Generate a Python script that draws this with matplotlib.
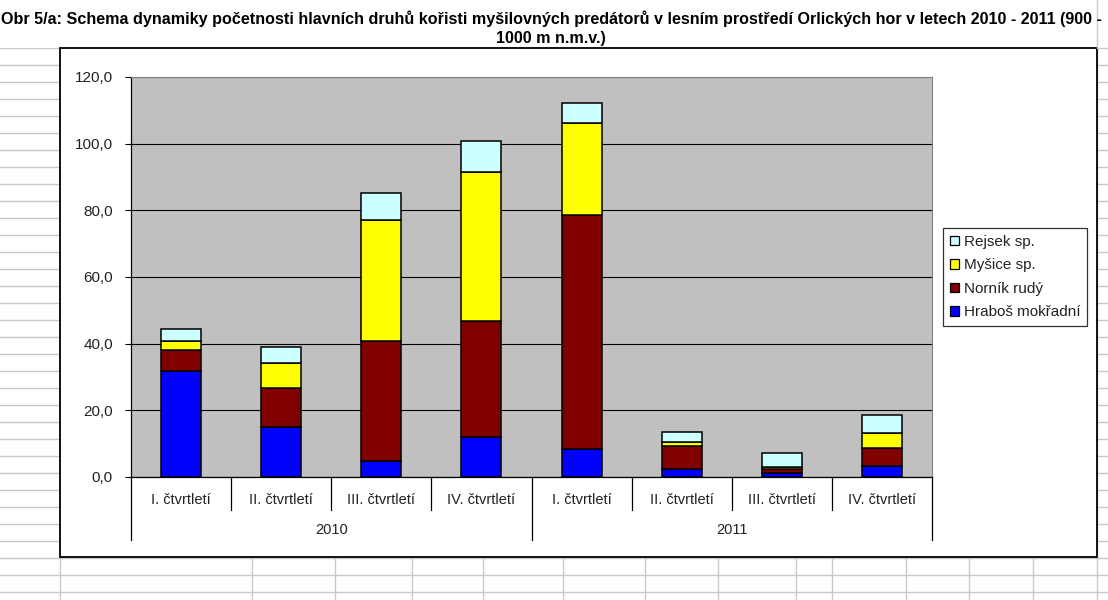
import numpy as np
import matplotlib
matplotlib.use("Agg")
import matplotlib.pyplot as plt
from matplotlib.patches import Rectangle, Patch
from matplotlib.ticker import FuncFormatter

plt.rcParams['font.family'] = ['Liberation Sans', 'DejaVu Sans']

W, H = 1108, 600

TITLE = ("Obr 5/a: Schema dynamiky početnosti hlavních druhů kořisti myšilovných predátorů "
         "v lesním prostředí Orlických hor v letech 2010 - 2011 (900 -\n1000 m n.m.v.)")

QUARTERS = ["I. čtvrtletí", "II. čtvrtletí", "III. čtvrtletí", "IV. čtvrtletí"] * 2
YEARS    = ["2010", "2011"]

# values, per quarter
hrabos = [31.8, 15.1, 4.8, 12.1, 8.4, 2.3, 1.1, 3.4]
nornik = [6.3, 11.7, 36.1, 34.8, 70.3, 7.1, 1.2, 5.4]
mysice = [2.7, 7.5, 36.2, 44.7, 27.6, 1.1, 0.8, 4.5]
rejsek = [3.5, 4.6, 8.2, 9.1, 5.8, 2.9, 4.0, 5.2]

SERIES = [("Hraboš mokřadní", hrabos, "#0000ff"),
          ("Norník rudý",     nornik, "#800000"),
          ("Myšice sp.",      mysice, "#ffff00"),
          ("Rejsek sp.",      rejsek, "#ccffff")]

fig = plt.figure(figsize=(W / 100, H / 100), dpi=100)

# spreadsheet behind the chart
bg = fig.add_axes([0, 0, 1, 1])
bg.set_xlim(0, W)
bg.set_ylim(H, 0)
bg.axis('off')
grid_col = '#c8c8c8'
for y in range(48, H, 17):
    bg.plot([0, W], [y, y], color=grid_col, lw=1)
for x in [60, 252, 335, 412, 483, 563, 645, 718, 796, 832, 906, 969, 1033, 1097]:
    bg.plot([x, x], [48, H], color=grid_col, lw=1)
bg.add_patch(Rectangle((0, 0), 1097, 48, facecolor='white', edgecolor='none', zorder=2))
bg.plot([1097, 1097], [0, 48], color=grid_col, lw=1, zorder=3)
bg.add_patch(Rectangle((60, 48), 1037, 509, facecolor='white', edgecolor='black', lw=1.3, zorder=2))
bg.text(551, 28.5, TITLE, ha='center', va='center', fontsize=11.6, fontweight='bold',
        linespacing=1.35, zorder=4)

# plot area
px0, py0, px1, py1 = 131, 77, 932, 477
ax = fig.add_axes([px0 / W, 1 - py1 / H, (px1 - px0) / W, (py1 - py0) / H])
ax.set_facecolor('#c0c0c0')

x = np.arange(len(QUARTERS))
bottom = np.zeros(len(QUARTERS))
for name, vals, col in SERIES:
    ax.bar(x, vals, 0.4, bottom=bottom, color=col, edgecolor='black', lw=1.1, label=name, zorder=3)
    bottom += np.array(vals)

ax.set_xlim(-0.5, len(QUARTERS) - 0.5)
ax.set_ylim(0, 120)
ax.set_yticks(np.arange(0, 121, 20))
ax.yaxis.set_major_formatter(FuncFormatter(lambda v, p: f"{v:.1f}".replace('.', ',')))
ax.yaxis.grid(True, color='black', lw=0.8)
ax.set_axisbelow(True)
ax.tick_params(axis='y', direction='out', length=4, width=0.8, pad=9, labelsize=11, labelcolor='#222222')
ax.set_xticks([])
for s in ['top', 'right']:
    ax.spines[s].set_color('#808080')
for s in ['left', 'bottom']:
    ax.spines[s].set_color('black')
    ax.spines[s].set_linewidth(0.9)

# two level category axis
tr = ax.get_xaxis_transform()
for i, q in enumerate(QUARTERS):
    ax.text(i, -0.0575, q, transform=tr, ha='center', va='center', fontsize=10.5, color='#222222')
for k in range(1, len(QUARTERS)):
    if k % 4:
        ax.plot([k - 0.5, k - 0.5], [0, -0.0825], transform=tr, color='black', lw=0.9, clip_on=False)
for k in [0, 4, 8]:
    ax.plot([k - 0.5, k - 0.5], [0, -0.1575], transform=tr, color='black', lw=0.9, clip_on=False)
for j, yr in enumerate(YEARS):
    ax.text(4 * j + 1.5, -0.1325, yr, transform=tr, ha='center', va='center', fontsize=10.5, color='#222222')

handles = [Patch(facecolor=c, edgecolor='black', lw=0.9, label=n) for n, v, c in SERIES[::-1]]
leg = fig.legend(handles=handles, loc='upper left', bbox_to_anchor=(943 / W, 1 - 228 / H),
                 fontsize=11, frameon=True, fancybox=False, handlelength=0.6, handleheight=0.6,
                 handletextpad=0.3, labelspacing=0.62, borderpad=0.45, borderaxespad=0)
leg.get_frame().set_edgecolor('black')
leg.get_frame().set_linewidth(0.9)
for t in leg.get_texts():
    t.set_color('#222222')

fig.savefig('out.png', dpi=100)
